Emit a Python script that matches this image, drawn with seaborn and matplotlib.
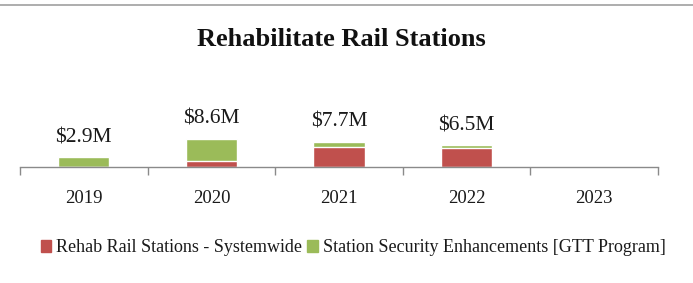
import matplotlib
matplotlib.use("Agg")
import matplotlib.pyplot as plt
import seaborn as sns
import pandas as pd
from matplotlib.patches import Patch
from matplotlib.lines import Line2D

sns.set_theme(style="white")
plt.rcParams['font.family'] = ['Liberation Serif', 'DejaVu Serif']

# data ($M)
years = ["2019", "2020", "2021", "2022", "2023"]
rehab = [0.0, 1.8, 6.1, 5.7, 0.0]
security = [2.9, 6.8, 1.6, 0.8, 0.0]
labels = ["$2.9M", "$8.6M", "$7.7M", "$6.5M", ""]

red = "#C0504D"
green = "#9BBB59"

df = pd.DataFrame({"year": years, "rehab": rehab, "security": security})
df["total"] = df["rehab"] + df["security"]

fig = plt.figure(figsize=(6.93, 2.83), dpi=100)
ax = fig.add_axes([20 / 693, 1 - 166.7 / 283, 638 / 693, 100.7 / 283])

# stacked look: total in green, rehab drawn over it from zero
sns.barplot(data=df, x="year", y="total", color=green, width=0.4,
            saturation=1, ax=ax)
sns.barplot(data=df, x="year", y="rehab", color=red, width=0.4,
            saturation=1, ax=ax)

for i, (tot, lab) in enumerate(zip(df["total"], labels)):
    if lab:
        ax.annotate(lab, (i, tot), xytext=(0, 7), textcoords="offset points",
                    ha="center", va="bottom", fontsize=15.5, color="#1a1a1a")

ax.set_xlim(-0.5, 4.5)
ax.set_ylim(0, 30.8)
ax.set_xlabel("")
ax.set_ylabel("")
ax.set_yticks([])
for s in ["top", "right", "left"]:
    ax.spines[s].set_visible(False)
ax.spines["bottom"].set_color("#8a8a8a")
ax.spines["bottom"].set_linewidth(1)

# ticks between categories, labels centred
ax.set_xticks([i - 0.5 for i in range(6)], minor=False)
ax.set_xticklabels([])
ax.tick_params(axis="x", which="major", direction="out", length=6,
               color="#8a8a8a", width=1, bottom=True)
ax.set_xticks(range(len(years)), minor=True)
ax.set_xticklabels(years, minor=True)
ax.tick_params(axis="x", which="minor", length=0, pad=17, labelsize=13.5,
               labelcolor="#1a1a1a")

fig.text(341 / 693, 1 - 40 / 283, "Rehabilitate Rail Stations",
         ha="center", va="center", fontsize=19, fontweight="bold",
         color="#111111")

handles = [Patch(color=red, label="Rehab Rail Stations - Systemwide"),
           Patch(color=green, label="Station Security Enhancements [GTT Program]")]
fig.legend(handles=handles, loc="center", bbox_to_anchor=(353 / 693, 1 - 248 / 283),
           ncol=2, frameon=False, fontsize=13, handlelength=0.6, handleheight=0.6,
           handletextpad=0.25, columnspacing=0.3, labelcolor="#1a1a1a")

fig.add_artist(Line2D([0, 1], [1 - 5 / 283, 1 - 5 / 283], color="#a0a0a0",
                      linewidth=1.2, transform=fig.transFigure))

fig.savefig("out.png", dpi=100)
